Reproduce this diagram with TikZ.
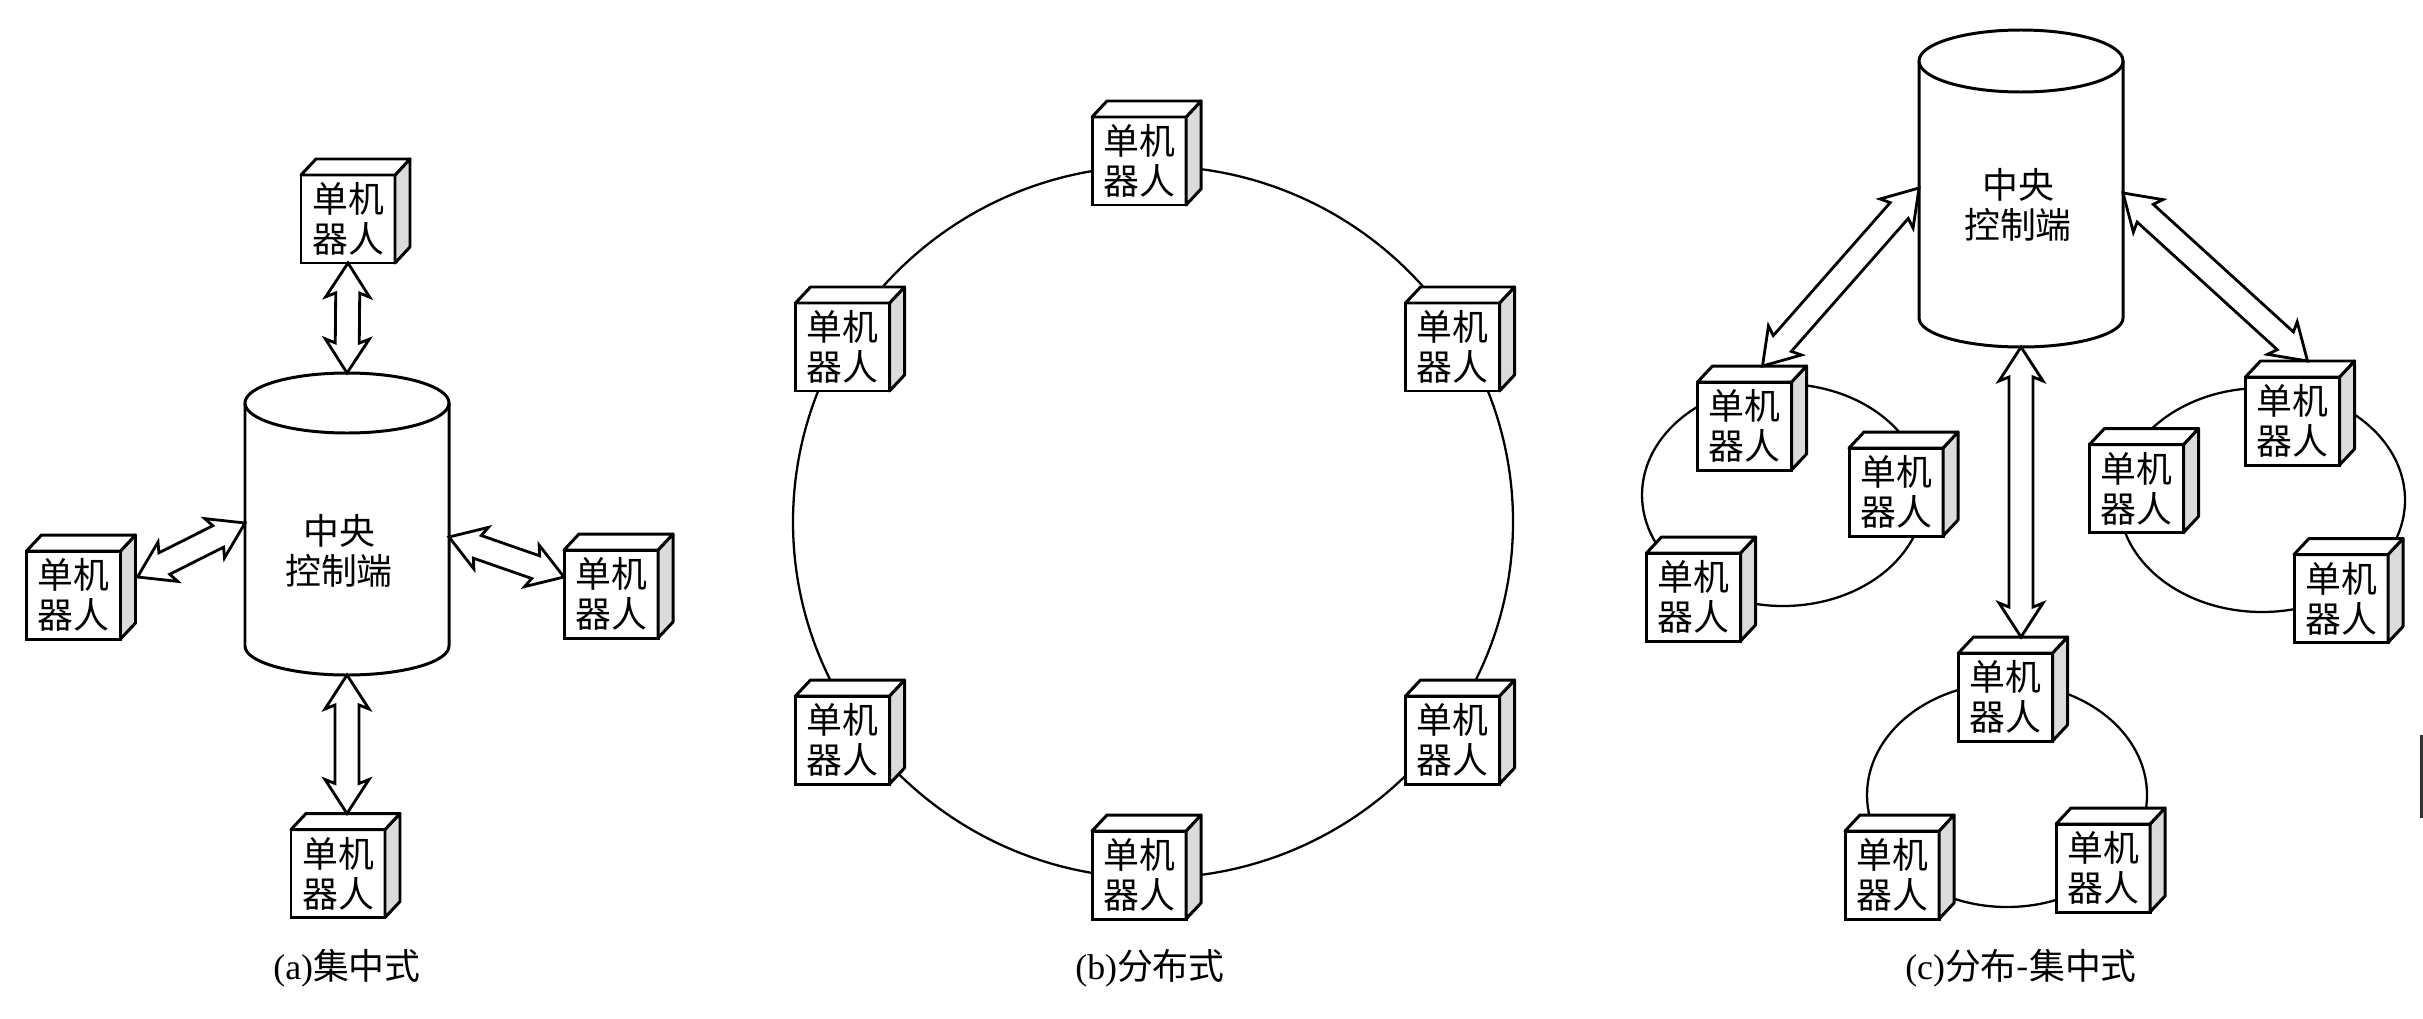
\documentclass[tikz,border=0pt]{standalone}
\usepackage{fontspec}
\setmainfont{Liberation Serif}
\newfontfamily\cjk{Noto Sans CJK SC}
\usetikzlibrary{calc}
\tikzset{
  robot/.style={draw, fill=white, line width=0.85pt, minimum width=9.4mm, minimum height=8.8mm,
    inner sep=0pt, outer sep=0pt, align=center, font=\cjk\fontsize{10.2pt}{11.4pt}\selectfont},
  cubeside/.style={fill=black!14, draw, line width=0.85pt, line join=round},
  cubetop/.style={fill=white, draw, line width=0.85pt, line join=round},
  cyl/.style={draw, line width=0.85pt, fill=white},
  ring/.style={draw, line width=0.65pt},
  dbl/.style={draw, fill=white, line width=0.8pt, line join=miter},
  cyltext/.style={font=\cjk\fontsize{10.2pt}{11.2pt}\selectfont, align=center, inner sep=0pt},
  caption/.style={font=\fontsize{10.2pt}{12pt}\selectfont, inner sep=0pt}
}
\newcommand\robot[3]{%
  \node[robot] (#1) at (#2,#3) {单机\\器人};
  \filldraw[cubeside] (#1.north east) -- ($(#1.north east)+(15,-16)$) -- ($(#1.south east)+(15,-16)$) -- (#1.south east) -- cycle;
  \filldraw[cubetop] (#1.north west) -- ($(#1.north west)+(15,-16)$) -- ($(#1.north east)+(15,-16)$) -- (#1.north east) -- cycle;
}
\newcommand\dblarr[2]{%
  \draw[dbl] (#1) -- ($(#1)!3.4mm!(#2)!2.2mm!90:(#2)$) -- ($(#1)!3.0mm!(#2)!1.2mm!90:(#2)$)
    -- ($(#2)!3.0mm!(#1)!1.2mm!-90:(#1)$) -- ($(#2)!3.4mm!(#1)!2.2mm!-90:(#1)$) -- (#2)
    -- ($(#2)!3.4mm!(#1)!2.2mm!90:(#1)$) -- ($(#2)!3.0mm!(#1)!1.2mm!90:(#1)$)
    -- ($(#1)!3.0mm!(#2)!1.2mm!-90:(#2)$) -- ($(#1)!3.4mm!(#2)!2.2mm!-90:(#2)$) -- cycle;
}
\begin{document}
\begin{tikzpicture}[x=0.1mm, y=-0.1mm]
\path[use as bounding box, fill=white] (0,0) rectangle (2423,1018);

% ---------------- (a) centralised ----------------
\draw[cyl] (245,403) -- (245,646) arc[start angle=180, end angle=0, x radius=102, y radius=29] -- (449,403);
\draw[cyl] (347,403) ellipse [x radius=102, y radius=30];
\node[cyltext] (ca) at (339,551) {中央\\控制端};
\coordinate (ca-top) at (347,373);
\coordinate (ca-bot) at (347,675);
\coordinate (ca-left) at (245,523);
\coordinate (ca-right) at (449,537);

\robot{ra1}{348}{219}
\robot{ra2}{73.5}{595}
\robot{ra3}{611}{594}
\robot{ra4}{338}{873.5}

\coordinate (ra1-end) at (ra1.south);
\coordinate (ra2-end) at ($(ra2.east)+(17,-18)$);
\coordinate (ra3-end) at ($(ra3.west)+(0,-17)$);
\coordinate (ra4-end) at ($(ra4.north)+(9,-16)$);

\dblarr{ra1-end}{ca-top}
\dblarr{ra2-end}{ca-left}
\dblarr{ca-right}{ra3-end}
\dblarr{ca-bot}{ra4-end}

\node[caption] (capa) at (347,968) {(a){\cjk 集中式}};

% ---------------- (b) distributed ----------------
\draw[ring] (1153,522) ellipse [x radius=360, y radius=356];
\robot{rb1}{1139}{161}
\robot{rb2}{842.5}{347}
\robot{rb3}{1452.5}{347}
\robot{rb4}{842.5}{740}
\robot{rb5}{1452.5}{740}
\robot{rb6}{1139}{875}

\node[caption] (capb) at (1150,968) {(b){\cjk 分布式}};

% ---------------- (c) distributed-centralised ----------------
\draw[ring] (1783,495) ellipse [x radius=141, y radius=111];
\draw[ring] (2262,500) ellipse [x radius=143, y radius=112];
\draw[ring] (2007,795) ellipse [x radius=140, y radius=112];

\draw[cyl] (1919,61) -- (1919,318) arc[start angle=180, end angle=0, x radius=102, y radius=29] -- (2123,61);
\draw[cyl] (2021,61) ellipse [x radius=102, y radius=31];
\node[cyltext] (cc) at (2018,205) {中央\\控制端};
\coordinate (cc-left) at (1919,188);
\coordinate (cc-right) at (2123,193);
\coordinate (cc-bot) at (2021,347);

\robot{rc1}{1744.5}{426}
\robot{rc2}{1896}{492}
\robot{rc3}{1693.5}{597}
\robot{rc4}{2292.5}{421}
\robot{rc5}{2136.5}{488.5}
\robot{rc6}{2341}{598.5}
\robot{rc7}{2005.5}{697}
\robot{rc8}{1892}{875}
\robot{rc9}{2103}{868}

\coordinate (rc1-end) at ($(rc1.north)+(18,-16)$);
\coordinate (rc4-end) at ($(rc4.north)+(15,-16)$);
\coordinate (rc7-end) at ($(rc7.north)+(15.5,-16)$);

\dblarr{cc-left}{rc1-end}
\dblarr{cc-right}{rc4-end}
\dblarr{cc-bot}{rc7-end}

\node[caption] (capc) at (2021,968) {(c){\cjk 分布-集中式}};

% scan edge mark
\fill[black!80] (2420,735) rectangle (2423,818);
\end{tikzpicture}
\end{document}
